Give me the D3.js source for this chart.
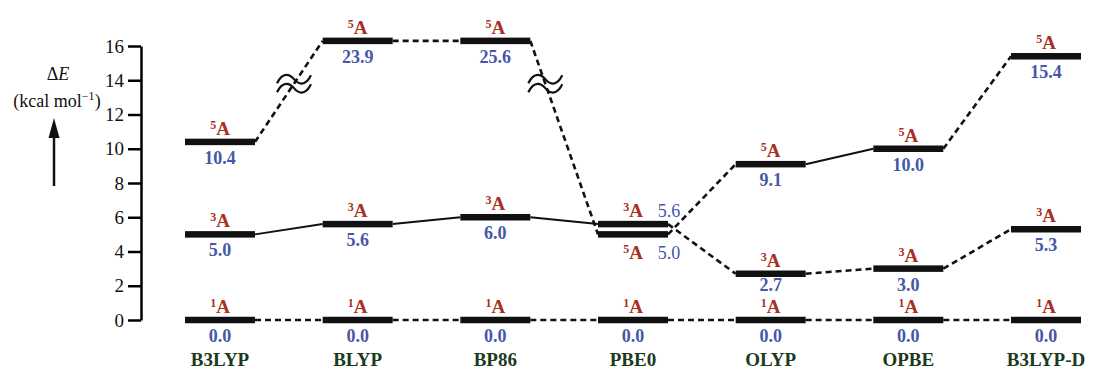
<!DOCTYPE html>
<html>
<head>
<meta charset="utf-8">
<script src="https://cdn.jsdelivr.net/npm/d3@7"></script>
<style>
  html, body { margin: 0; padding: 0; background: #fff; }
  svg { display: block; }
  text { font-family: "Liberation Serif", "Times New Roman", serif; }
</style>
</head>
<body>
<div id="chart"></div>
<script>
// Data
const categories = ["B3LYP", "BLYP", "BP86", "PBE0", "OLYP", "OPBE", "B3LYP-D"];
const energy1A = [0.0, 0.0, 0.0, 0.0, 0.0, 0.0, 0.0];
const energy3A = [5.0, 5.6, 6.0, 5.6, 2.7, 3.0, 5.3];
const energy5A = [10.4, 23.9, 25.6, 5.0, 9.1, 10.0, 15.4];
// connector style between neighbouring functionals
const link1A = ["dash", "dash", "dash", "dash", "dash", "dash"];
const link3A = ["solid", "solid", "solid", "dash", "dash", "dash"];
const link5A = ["dash", "dash", "dash", "dash", "solid", "dash"];
const yTicks = [0, 2, 4, 6, 8, 10, 12, 14, 16];
const breakTop = 16.3;   // off-scale levels are drawn here
const breakMark = 13.8;  // where the ≈ break symbol sits

const width = 1095, height = 369;
const svg = d3.select("#chart").append("svg")
  .attr("width", width).attr("height", height);

const x = d3.scalePoint().domain(categories).range([220, 1046]);
const y = d3.scaleLinear().domain([0, 16]).range([320, 46]);
const barW = 70, barH = 6.5;

// Y axis
const yAxis = d3.axisLeft(y).tickValues(yTicks).tickSize(13).tickSizeOuter(0).tickPadding(4);
const gy = svg.append("g")
  .attr("transform", "translate(141,0)")
  .call(yAxis);
gy.select(".domain").attr("stroke-width", 2.5);
gy.selectAll(".tick line").attr("stroke-width", 2.5);
gy.selectAll(".tick text")
  .attr("font-size", 19)
  .attr("fill", "#111");

// axis title + arrow
const title = svg.append("text").attr("x", 58).attr("y", 80)
  .attr("text-anchor", "middle").attr("font-size", 18).attr("fill", "#111");
title.append("tspan").text("Δ");
title.append("tspan").attr("font-style", "italic").text("E");

const unit = svg.append("text").attr("x", 57).attr("y", 107)
  .attr("text-anchor", "middle").attr("font-size", 18).attr("fill", "#111");
unit.append("tspan").text("(kcal mol");
unit.append("tspan").attr("font-size", 12).attr("dy", -7).text("−1");
unit.append("tspan").attr("dy", 7).text(")");

svg.append("line").attr("x1", 54).attr("x2", 54).attr("y1", 186).attr("y2", 132)
  .attr("stroke", "#111").attr("stroke-width", 2.5);
svg.append("path").attr("d", "M54,118 L48.5,138 L59.5,138 Z").attr("fill", "#111");

// helpers
const plotted = v => v > 16 ? breakTop : v;
const states = [
  { name: "1", values: energy1A, links: link1A },
  { name: "3", values: energy3A, links: link3A },
  { name: "5", values: energy5A, links: link5A }
];

// connectors
const conn = svg.append("g");
states.forEach(s => {
  s.links.forEach((style, i) => {
    const x1 = x(categories[i]) + barW / 2, y1 = y(plotted(s.values[i]));
    const x2 = x(categories[i + 1]) - barW / 2, y2 = y(plotted(s.values[i + 1]));
    conn.append("line")
      .attr("x1", x1).attr("y1", y1).attr("x2", x2).attr("y2", y2)
      .attr("stroke", "#111")
      .attr("stroke-width", style === "dash" ? 2.6 : 2)
      .attr("stroke-dasharray", style === "dash" ? "6 4" : null);

    // axis break mark on segments that reach an off-scale level
    const broken = (s.values[i] > 16) !== (s.values[i + 1] > 16);
    if (broken) {
      const yb = y(breakMark);
      const t = (yb - y1) / (y2 - y1);
      const bx = x1 + t * (x2 - x1);
      [-4.5, 4.5].forEach(dy => {
        const p = d3.path();
        p.moveTo(bx - 17, yb + dy + 4);
        p.bezierCurveTo(bx - 11, yb + dy - 8, bx - 4, yb + dy - 5, bx, yb + dy);
        p.bezierCurveTo(bx + 4, yb + dy + 5, bx + 11, yb + dy + 8, bx + 17, yb + dy - 4);
        conn.append("path").attr("d", p.toString())
          .attr("fill", "none").attr("stroke", "#111").attr("stroke-width", 2.2);
      });
    }
  });
});

// bars and labels
const red = "#a8301f", blue = "#4658a8", green = "#1c3a1c";
const bars = svg.append("g");
const labels = svg.append("g").attr("font-weight", "bold");

function stateLabel(cx, by, name) {
  const t = labels.append("text").attr("x", cx).attr("y", by)
    .attr("text-anchor", "middle").attr("fill", red);
  t.append("tspan").attr("font-size", 12).attr("dy", -6).text(name);
  t.append("tspan").attr("font-size", 19).attr("dy", 6).text("A");
}

// value labels must stay clear of the ground-state label underneath
const maxValueY = y(0) - 7 - 22;

states.forEach(s => {
  s.values.forEach((v, i) => {
    const cx = x(categories[i]);
    const by = y(plotted(v));
    bars.append("rect")
      .attr("x", cx - barW / 2).attr("y", by - barH / 2)
      .attr("width", barW).attr("height", barH)
      .attr("fill", "#111");

    const close = Math.abs(energy3A[i] - energy5A[i]) < 1;
    if (close && s.name !== "1") {
      // overlapping pair: triplet labelled above, quintet below, values at the side
      const upper = s.values[i] >= (s.name === "3" ? energy5A[i] : energy3A[i]);
      const ly = upper ? by - 7 : by + 25;
      stateLabel(cx, ly, s.name);
      labels.append("text").attr("x", cx + 36).attr("y", ly)
        .attr("text-anchor", "middle").attr("font-size", 18)
        .attr("font-family", "'Liberation Sans', sans-serif")
        .attr("font-weight", "normal").attr("fill", blue)
        .text(v.toFixed(1));
    } else {
      stateLabel(cx, by - 7, s.name);
      const vy = s.name === "1" ? by + 22 : Math.min(by + 22, maxValueY);
      labels.append("text").attr("x", cx).attr("y", vy)
        .attr("text-anchor", "middle").attr("font-size", 18).attr("fill", blue)
        .text(v.toFixed(1));
    }
  });
});

// functional names
svg.append("g").selectAll("text").data(categories).join("text")
  .attr("x", d => x(d)).attr("y", 366)
  .attr("text-anchor", "middle")
  .attr("font-size", 19).attr("font-weight", "bold").attr("fill", green)
  .text(d => d);
</script>
</body>
</html>
